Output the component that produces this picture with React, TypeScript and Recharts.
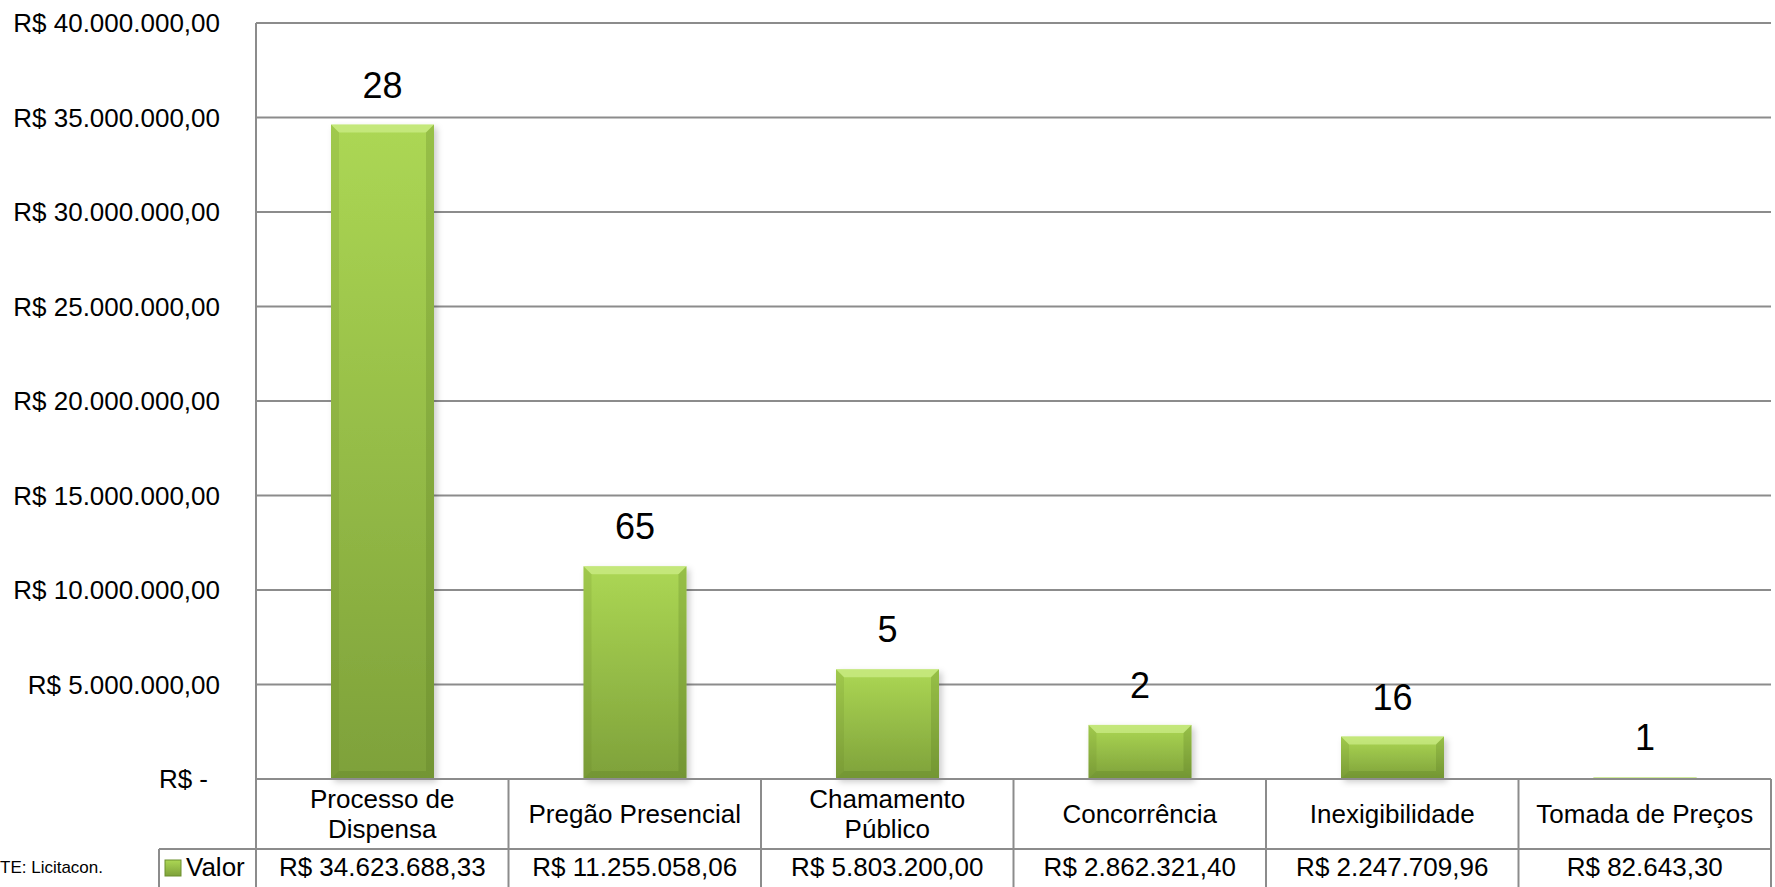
import { BarChart, Bar, XAxis, YAxis, CartesianGrid, LabelList, Customized } from 'recharts';

const categorias = [
  'Processo de Dispensa',
  'Pregão Presencial',
  'Chamamento Público',
  'Concorrência',
  'Inexigibilidade',
  'Tomada de Preços',
];
const valores = [34623688.33, 11255058.06, 5803200.0, 2862321.4, 2247709.96, 82643.3];
const quantidades = [28, 65, 5, 2, 16, 1];
const yTicks = [0, 5000000, 10000000, 15000000, 20000000, 25000000, 30000000, 35000000, 40000000];

const W = 1775;
const H = 887;
const AXIS_W = 256;
const M_TOP = 23;
const M_RIGHT = 4;
const XAXIS_H = 108;
const PLOT_BOTTOM = H - XAXIS_H;
const COL_W = (W - AXIS_W - M_RIGHT) / categorias.length;
const ROW1_BOTTOM = PLOT_BOTTOM + 70;
const FONT = "'Liberation Sans', Arial, sans-serif";
const LINE = '#8c8c8c';

const data = categorias.map((name, i) => ({ name, valor: valores[i], qtd: quantidades[i] }));

function brl(v: number) {
  const [int, dec] = v.toFixed(2).split('.');
  return `R$ ${int.replace(/\B(?=(\d{3})+(?!\d))/g, '.')},${dec}`;
}

function wrap(text: string, maxChars = 17) {
  const words = text.split(' ');
  const lines: string[] = [];
  let cur = '';
  for (const w of words) {
    const next = cur ? cur + ' ' + w : w;
    if (next.length > maxChars && cur) {
      lines.push(cur);
      cur = w;
    } else {
      cur = next;
    }
  }
  if (cur) lines.push(cur);
  return lines;
}

const YTick = (props: any) => {
  const { y, payload } = props;
  const zero = payload.value === 0;
  return (
    <text
      x={zero ? AXIS_W - 48 : AXIS_W - 36}
      y={y + 9}
      textAnchor="end"
      fontSize={26}
      fontFamily={FONT}
      fill="#000"
    >
      {zero ? 'R$ -' : brl(payload.value)}
    </text>
  );
};

const XTick = (props: any) => {
  const { x, payload } = props;
  const i = payload.index ?? props.index;
  const half = COL_W / 2;
  const lines = wrap(payload.value);
  const mid = PLOT_BOTTOM + 35;
  const first = mid + 9 - ((lines.length - 1) * 30) / 2;
  return (
    <g>
      {i === 0 && <line x1={x - half} x2={x - half} y1={PLOT_BOTTOM} y2={H} stroke={LINE} strokeWidth={2} />}
      <line x1={x + half} x2={x + half} y1={PLOT_BOTTOM} y2={H} stroke={LINE} strokeWidth={2} />
      <line x1={x - half} x2={x + half} y1={ROW1_BOTTOM} y2={ROW1_BOTTOM} stroke={LINE} strokeWidth={2} />
      {lines.map((l, k) => (
        <text key={k} x={x} y={first + k * 30} textAnchor="middle" fontSize={26} fontFamily={FONT} fill="#000">
          {l}
        </text>
      ))}
      <text x={x} y={ROW1_BOTTOM + 27} textAnchor="middle" fontSize={26} fontFamily={FONT} fill="#000">
        {brl(valores[i])}
      </text>
    </g>
  );
};

const BevelBar = (props: any) => {
  const { x, y, width: w, height: h } = props;
  if (!h || h <= 0) return null;
  const b = Math.min(8, h / 2, w / 2);
  return (
    <g>
      <rect x={x} y={y} width={w} height={h} fill="url(#barGrad)" filter="url(#barShadow)" />
      <polygon points={`${x},${y} ${x + w},${y} ${x + w - b},${y + b} ${x + b},${y + b}`} fill="#d9f59a" opacity={0.55} />
      <polygon points={`${x},${y} ${x + b},${y + b} ${x + b},${y + h - b} ${x},${y + h}`} fill="#5c7a22" opacity={0.15} />
      <polygon points={`${x + w},${y} ${x + w},${y + h} ${x + w - b},${y + h - b} ${x + w - b},${y + b}`} fill="#4f6d1a" opacity={0.22} />
      <polygon points={`${x},${y + h} ${x + w},${y + h} ${x + w - b},${y + h - b} ${x + b},${y + h - b}`} fill="#4f6d1a" opacity={0.22} />
    </g>
  );
};

const CountLabel = (props: any) => {
  const { x, y, width, index } = props;
  return (
    <text x={x + width / 2} y={y - 27} textAnchor="middle" fontSize={36} fontFamily={FONT} fill="#000">
      {quantidades[index]}
    </text>
  );
};

const TableLegend = () => {
  const left = 159;
  return (
    <g>
      <line x1={left} x2={AXIS_W} y1={ROW1_BOTTOM} y2={ROW1_BOTTOM} stroke={LINE} strokeWidth={2} />
      <line x1={left} x2={left} y1={ROW1_BOTTOM} y2={H} stroke={LINE} strokeWidth={2} />
      <rect x={165} y={860} width={16} height={16} fill="url(#barGrad)" stroke="#6d8f2e" strokeWidth={1} />
      <text x={186} y={876} fontSize={26} fontFamily={FONT} fill="#000">
        Valor
      </text>
      <text x={103} y={873} textAnchor="end" fontSize={17} fontFamily={FONT} fill="#000">
        FONTE: Licitacon.
      </text>
    </g>
  );
};

export default function App() {
  return (
    <div style={{ position: 'absolute', left: 0, top: 0, width: W, height: H, background: '#fff' }}>
      <BarChart
        width={W}
        height={H}
        data={data}
        margin={{ top: M_TOP, right: M_RIGHT, bottom: 0, left: 0 }}
        barSize={103}
      >
        <defs>
          <linearGradient id="barGrad" x1="0" y1="0" x2="0" y2="1">
            <stop offset="0%" stopColor="#acd754" />
            <stop offset="100%" stopColor="#7ea13a" />
          </linearGradient>
          <filter id="barShadow" x="-10%" y="-10%" width="130%" height="130%">
            <feDropShadow dx="3" dy="3" stdDeviation="3" floodColor="#000" floodOpacity="0.2" />
          </filter>
        </defs>
        <CartesianGrid vertical={false} stroke={LINE} strokeWidth={2} />
        <XAxis
          dataKey="name"
          interval={0}
          height={XAXIS_H}
          tickLine={false}
          axisLine={{ stroke: LINE, strokeWidth: 2 }}
          tick={<XTick />}
        />
        <YAxis
          width={AXIS_W}
          domain={[0, 40000000]}
          ticks={yTicks}
          interval={0}
          tickLine={false}
          axisLine={{ stroke: LINE, strokeWidth: 2 }}
          tick={<YTick />}
        />
        <Bar dataKey="valor" shape={<BevelBar />} isAnimationActive={false}>
          <LabelList dataKey="qtd" content={<CountLabel />} />
        </Bar>
        <Customized component={<TableLegend />} />
      </BarChart>
    </div>
  );
}
